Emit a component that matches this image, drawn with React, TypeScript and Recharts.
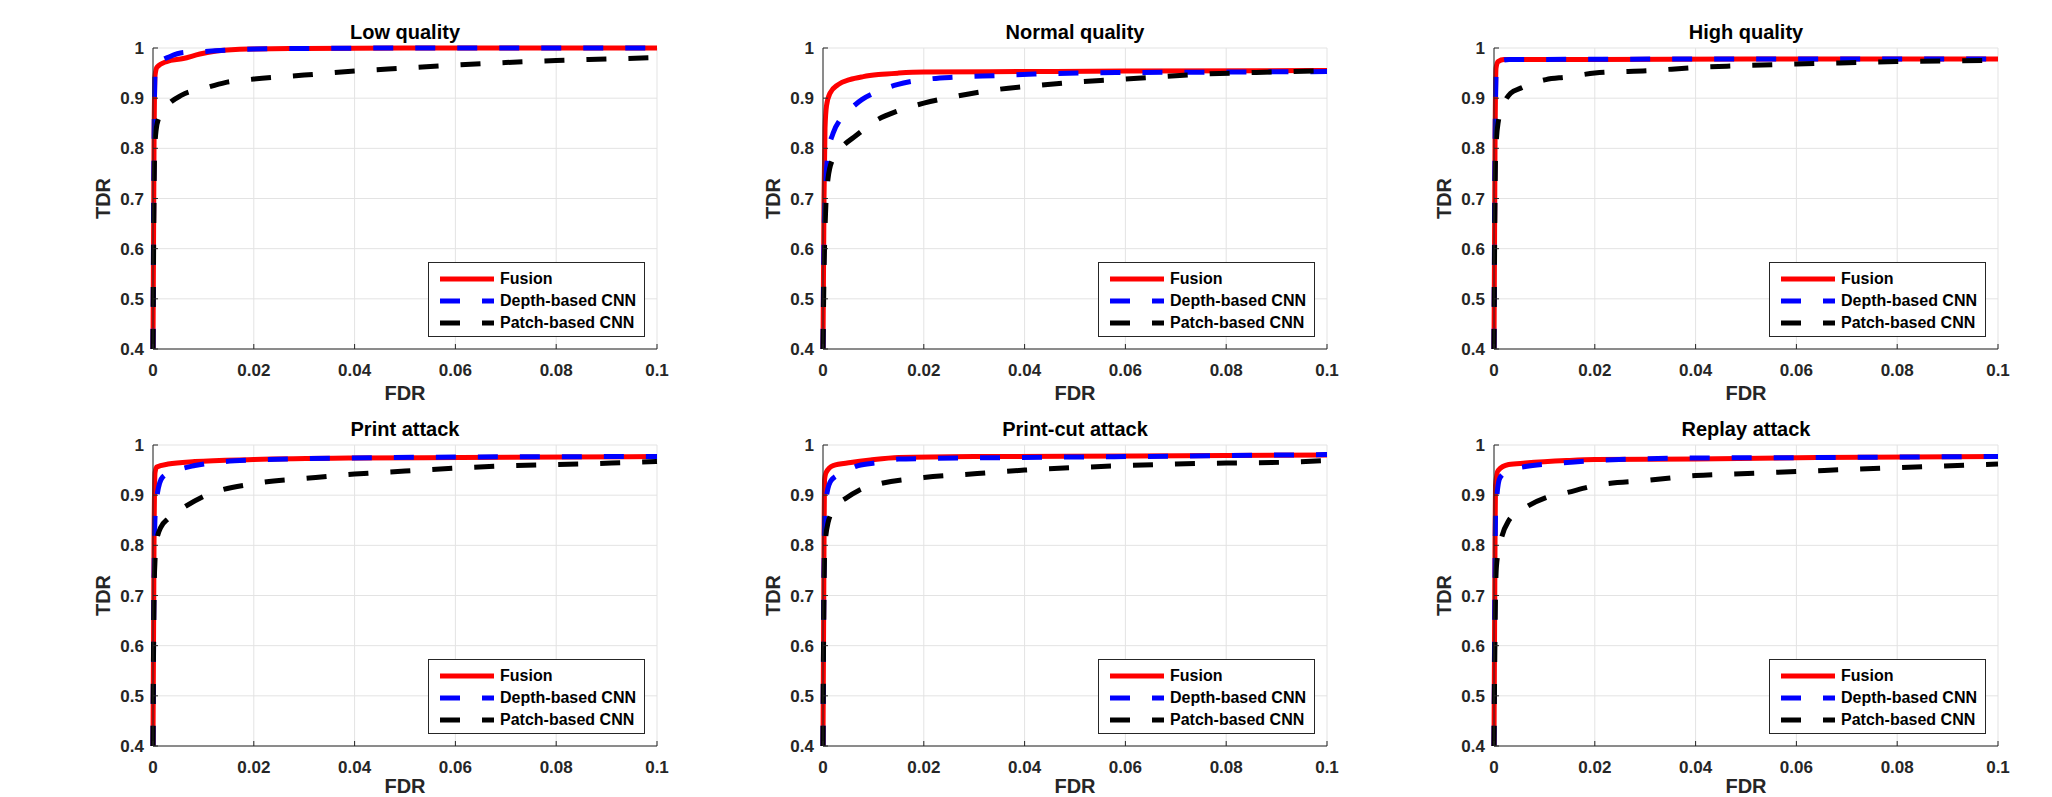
import React from "react";
import { CartesianGrid, Legend, Line, LineChart, XAxis, YAxis } from "recharts";

type Pt = [number, number]; // [FDR, TDR]

const FDR_TICKS = [0, 0.02, 0.04, 0.06, 0.08, 0.1];
const TDR_TICKS = [0.4, 0.5, 0.6, 0.7, 0.8, 0.9, 1];
const SERIES_NAMES = ["Fusion", "Depth-based CNN", "Patch-based CNN"];

// Low quality
const lowFusion: Pt[] = [[0, 0.4], [0.0002, 0.8], [0.0004, 0.945], [0.0008, 0.962], [0.0027, 0.973], [0.006, 0.979], [0.0093, 0.988], [0.0126, 0.994], [0.019, 0.998], [0.03, 0.999], [0.05, 1], [0.1, 1]];
const lowDepth: Pt[] = [[0, 0.4], [0.0002, 0.8], [0.0004, 0.948], [0.001, 0.969], [0.0034, 0.983], [0.006, 0.991], [0.01, 0.993], [0.015, 0.996], [0.02, 0.998], [0.03, 0.999], [0.05, 1], [0.1, 1]];
const lowPatch: Pt[] = [[0, 0.4], [0.0003, 0.78], [0.0006, 0.835], [0.0012, 0.862], [0.0027, 0.884], [0.0057, 0.906], [0.0103, 0.92], [0.0143, 0.931], [0.02, 0.938], [0.03, 0.946], [0.04, 0.954], [0.05, 0.96], [0.06, 0.966], [0.07, 0.971], [0.08, 0.975], [0.09, 0.978], [0.1, 0.981]];

// Normal quality
const normalFusion: Pt[] = [[0, 0.4], [0.0002, 0.7], [0.0004, 0.84], [0.0007, 0.885], [0.0014, 0.91], [0.003, 0.927], [0.0053, 0.937], [0.008, 0.943], [0.011, 0.947], [0.015, 0.95], [0.02, 0.952], [0.04, 0.953], [0.06, 0.954], [0.1, 0.955]];
const normalDepth: Pt[] = [[0, 0.4], [0.0002, 0.62], [0.0005, 0.72], [0.001, 0.79], [0.002, 0.83], [0.0034, 0.857], [0.0053, 0.877], [0.0077, 0.897], [0.0108, 0.913], [0.0147, 0.927], [0.02, 0.937], [0.0265, 0.942], [0.0344, 0.945], [0.042, 0.948], [0.058, 0.951], [0.08, 0.952], [0.1, 0.953]];
const normalPatch: Pt[] = [[0, 0.4], [0.0002, 0.55], [0.0005, 0.67], [0.001, 0.74], [0.002, 0.78], [0.004, 0.805], [0.0065, 0.825], [0.0108, 0.857], [0.0147, 0.874], [0.02, 0.89], [0.0265, 0.904], [0.0344, 0.917], [0.042, 0.925], [0.05, 0.932], [0.058, 0.937], [0.0657, 0.942], [0.0735, 0.947], [0.081, 0.95], [0.089, 0.952], [0.1, 0.955]];

// High quality
const highFusion: Pt[] = [[0, 0.4], [0.0002, 0.8], [0.0004, 0.96], [0.0008, 0.973], [0.002, 0.977], [0.02, 0.977], [0.05, 0.978], [0.1, 0.978]];
const highDepth: Pt[] = [[0, 0.4], [0.0002, 0.8], [0.0005, 0.965], [0.001, 0.974], [0.003, 0.977], [0.05, 0.978], [0.1, 0.978]];
const highPatch: Pt[] = [[0, 0.4], [0.0003, 0.78], [0.0008, 0.85], [0.002, 0.89], [0.0033, 0.91], [0.0053, 0.92], [0.0103, 0.937], [0.0144, 0.942], [0.02, 0.95], [0.031, 0.955], [0.04, 0.961], [0.047, 0.964], [0.06, 0.968], [0.072, 0.971], [0.08, 0.973], [0.1, 0.975]];

// Print attack
const printFusion: Pt[] = [[0, 0.4], [0.0002, 0.8], [0.0004, 0.945], [0.00075, 0.956], [0.003, 0.962], [0.0083, 0.967], [0.02, 0.971], [0.04, 0.974], [0.061, 0.975], [0.1, 0.977]];
const printDepth: Pt[] = [[0, 0.4], [0.0002, 0.72], [0.0004, 0.856], [0.00075, 0.896], [0.0019, 0.936], [0.0045, 0.949], [0.0083, 0.959], [0.0143, 0.967], [0.02, 0.97], [0.0385, 0.974], [0.06, 0.976], [0.1, 0.977]];
const printPatch: Pt[] = [[0, 0.4], [0.0002, 0.7], [0.0004, 0.77], [0.00075, 0.81], [0.0015, 0.835], [0.003, 0.853], [0.0053, 0.87], [0.0106, 0.9], [0.02, 0.923], [0.031, 0.934], [0.04, 0.942], [0.05, 0.948], [0.06, 0.954], [0.069, 0.958], [0.08, 0.961], [0.091, 0.964], [0.1, 0.967]];

// Print-cut attack
const printCutFusion: Pt[] = [[0, 0.4], [0.0002, 0.8], [0.0003, 0.93], [0.0006, 0.945], [0.002, 0.959], [0.0055, 0.965], [0.0094, 0.97], [0.015, 0.975], [0.03, 0.977], [0.062, 0.978], [0.1, 0.98]];
const printCutDepth: Pt[] = [[0, 0.4], [0.0002, 0.75], [0.0004, 0.88], [0.0008, 0.905], [0.0016, 0.929], [0.004, 0.945], [0.007, 0.959], [0.011, 0.965], [0.015, 0.972], [0.02, 0.973], [0.038, 0.975], [0.062, 0.977], [0.1, 0.981]];
const printCutPatch: Pt[] = [[0, 0.4], [0.0002, 0.72], [0.0004, 0.8], [0.001, 0.845], [0.0024, 0.875], [0.0047, 0.895], [0.007, 0.909], [0.011, 0.922], [0.02, 0.935], [0.0306, 0.943], [0.04, 0.95], [0.05, 0.955], [0.06, 0.959], [0.07, 0.962], [0.08, 0.964], [0.089, 0.965], [0.1, 0.969]];

// Replay attack
const replayFusion: Pt[] = [[0, 0.4], [0.0002, 0.8], [0.0003, 0.92], [0.0008, 0.949], [0.0029, 0.961], [0.0062, 0.964], [0.0144, 0.969], [0.02, 0.971], [0.04, 0.972], [0.064, 0.975], [0.1, 0.977]];
const replayDepth: Pt[] = [[0, 0.4], [0.0002, 0.75], [0.0003, 0.86], [0.0006, 0.902], [0.0012, 0.935], [0.0029, 0.949], [0.0062, 0.957], [0.012, 0.963], [0.02, 0.969], [0.04, 0.974], [0.064, 0.975], [0.1, 0.977]];
const replayPatch: Pt[] = [[0, 0.4], [0.0003, 0.7], [0.0005, 0.76], [0.0012, 0.802], [0.0029, 0.849], [0.0053, 0.869], [0.0103, 0.895], [0.0144, 0.905], [0.02, 0.919], [0.031, 0.93], [0.04, 0.939], [0.047, 0.942], [0.06, 0.947], [0.072, 0.952], [0.08, 0.955], [0.1, 0.962]];

const PANELS = [
  { title: "Low quality", curves: [lowFusion, lowDepth, lowPatch] },
  { title: "Normal quality", curves: [normalFusion, normalDepth, normalPatch] },
  { title: "High quality", curves: [highFusion, highDepth, highPatch] },
  { title: "Print attack", curves: [printFusion, printDepth, printPatch] },
  { title: "Print-cut attack", curves: [printCutFusion, printCutDepth, printCutPatch] },
  { title: "Replay attack", curves: [replayFusion, replayDepth, replayPatch] },
];

const STYLES = [
  { color: "#ff0000", dash: undefined as string | undefined },
  { color: "#0000ff", dash: "20 22" },
  { color: "#000000", dash: "20 22" },
];

// plot-area placement on the page
const PLOT_LEFT = [153, 823, 1494];
const PLOT_TOP = [48, 445];
const PLOT_W = 504;
const PLOT_H = 301;

const M_LEFT = 10;
const Y_W = 60;
const M_TOP = 48;
const M_RIGHT = 12;
const X_H = 56;
const LEGEND_W = 217;
const LEGEND_H = 75;

const AXIS_COLOR = "#262626";
const tickStyle = { fill: AXIS_COLOR, fontSize: 17, fontWeight: "bold" };

function RocLegend({ payload }: { payload?: any[] }) {
  // keep the plotting order (Recharts sorts legend items by name)
  const items = [...(payload || [])].sort(
    (a, b) => SERIES_NAMES.indexOf(a.value) - SERIES_NAMES.indexOf(b.value),
  )
  return (
    <div
      style={{
        width: LEGEND_W,
        height: LEGEND_H,
        boxSizing: "border-box",
        border: `1px solid ${AXIS_COLOR}`,
        background: "#fff",
        paddingTop: 5,
      }}
    >
      {items.map((entry) => {
        const s = STYLES[SERIES_NAMES.indexOf(entry.value)] || STYLES[0]
        return (
          <div
            key={entry.value}
            style={{ display: "flex", alignItems: "center", height: 22, marginLeft: 11 }}
          >
            <svg width={54} height={8} style={{ display: "block" }}>
              <line x1={0} y1={4} x2={54} y2={4} stroke={s.color} strokeWidth={5} strokeDasharray={s.dash} />
            </svg>
            <span
              style={{
                marginLeft: 6,
                fontSize: 16,
                fontWeight: "bold",
                color: "#000",
                whiteSpace: "nowrap",
                lineHeight: "22px",
              }}
            >
              {entry.value}
            </span>
          </div>
        )
      })}
    </div>
  )
}

function RocPanel({
  title,
  curves,
  left,
  top,
  fdrOffset,
}: {
  title: string
  curves: Pt[][]
  left: number
  top: number
  fdrOffset: number
}) {
  const w = M_LEFT + Y_W + PLOT_W + M_RIGHT
  const h = M_TOP + PLOT_H + X_H
  return (
    <div style={{ position: "absolute", left: left - M_LEFT - Y_W, top: top - M_TOP, width: w, height: h }}>
      <div
        style={{
          position: "absolute",
          left: M_LEFT + Y_W,
          top: 22,
          width: PLOT_W,
          textAlign: "center",
          fontSize: 20,
          fontWeight: "bold",
          lineHeight: "20px",
          color: "#000",
          whiteSpace: "nowrap",
        }}
      >
        {title}
      </div>
      <LineChart width={w} height={h} margin={{ top: M_TOP, right: M_RIGHT, bottom: 0, left: M_LEFT }}>
        <CartesianGrid stroke="#e3e3e3" strokeWidth={1} />
        <XAxis
          type="number"
          dataKey="x"
          domain={[0, 0.1]}
          ticks={FDR_TICKS}
          interval={0}
          height={X_H}
          tickSize={-5}
          tickMargin={20}
          stroke={AXIS_COLOR}
          tick={tickStyle}
          label={{ value: "FDR", position: "insideBottom", offset: fdrOffset, fontSize: 20, fontWeight: "bold", fill: AXIS_COLOR }}
        />
        <XAxis
          xAxisId="top"
          orientation="top"
          type="number"
          dataKey="x"
          domain={[0, 0.1]}
          ticks={FDR_TICKS}
          interval={0}
          height={0}
          tickSize={-5}
          tick={false}
          stroke={AXIS_COLOR}
        />
        <YAxis
          type="number"
          domain={[0.4, 1]}
          ticks={TDR_TICKS}
          interval={0}
          width={Y_W}
          tickSize={-5}
          tickMargin={14}
          stroke={AXIS_COLOR}
          tick={tickStyle}
          label={{
            value: "TDR",
            angle: -90,
            position: "insideLeft",
            offset: 10,
            fontSize: 20,
            fontWeight: "bold",
            fill: AXIS_COLOR,
            style: { textAnchor: "middle" },
          }}
        />
        <YAxis
          yAxisId="right"
          orientation="right"
          type="number"
          domain={[0.4, 1]}
          ticks={TDR_TICKS}
          interval={0}
          width={0}
          tickSize={-5}
          tick={false}
          stroke={AXIS_COLOR}
        />
        {curves.map((c, i) => (
          <Line
            key={SERIES_NAMES[i]}
            data={c.map(([x, y]) => ({ x, y }))}
            dataKey="y"
            name={SERIES_NAMES[i]}
            type="monotone"
            stroke={STYLES[i].color}
            strokeWidth={5}
            strokeDasharray={STYLES[i].dash}
            dot={false}
            activeDot={false}
            isAnimationActive={false}
          />
        ))}
        <Legend
          layout="vertical"
          align="center"
          verticalAlign="middle"
          itemSorter={null as any}
          wrapperStyle={{
            left: M_LEFT + Y_W + PLOT_W - 12 - LEGEND_W,
            top: M_TOP + PLOT_H - 12 - LEGEND_H,
            width: LEGEND_W,
            height: LEGEND_H,
          }}
          content={(props: any) => <RocLegend payload={props.payload} />}
        />
      </LineChart>
    </div>
  )
}

export default function App() {
  return (
    <div
      style={{
        position: "absolute",
        left: 0,
        top: 0,
        width: 2052,
        height: 797,
        overflow: "hidden",
        background: "#fff",
        fontFamily: '"Liberation Sans", Arial, Helvetica, sans-serif',
      }}
    >
      {PANELS.map((p, i) => (
        <RocPanel
          key={p.title}
          title={p.title}
          curves={p.curves}
          left={PLOT_LEFT[i % 3]}
          top={PLOT_TOP[Math.floor(i / 3)]}
          fdrOffset={i < 3 ? 5 : 9}
        />
      ))}
    </div>
  )
}
